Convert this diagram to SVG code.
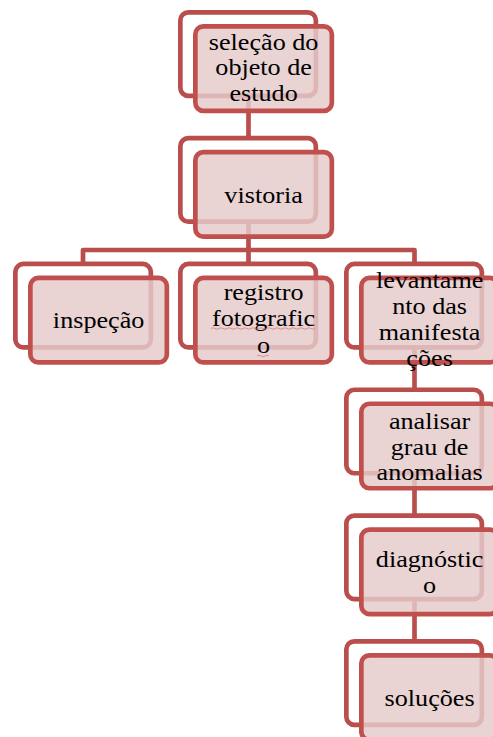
<svg xmlns="http://www.w3.org/2000/svg" width="493" height="737" viewBox="0 0 493 737">
<style>
.back{fill:#ffffff;stroke:#B94E4C;stroke-width:4.7}
.front{fill:#E5CACA;fill-opacity:0.84;stroke:#C0504D;stroke-width:4.7}
.conn{fill:none;stroke:#B94E4C;stroke-width:4.7;stroke-linejoin:round}
.t{font-family:"Liberation Serif","Times New Roman",serif;font-size:24px;fill:#000;text-anchor:middle}
.sq{fill:none;stroke:#E07a7a;stroke-width:0.8}
</style>
<rect width="493" height="737" fill="#ffffff"/>
<g id="connectors">
<path class="conn" d="M248.5 96 V138"/>
<path class="conn" d="M248.5 222 V250 M83 264 V250 H414.5 V264 M248.5 250 V264"/>
<path class="conn" d="M414.5 348 V390"/>
<path class="conn" d="M414.5 473.5 V516"/>
<path class="conn" d="M414.5 599 V642"/>
</g>
<g id="n1">
<rect class="back" x="180.35" y="12.35" width="135.5" height="83.5" rx="8"/>
<rect class="front" x="195.35" y="26.35" width="136.5" height="84.5" rx="8"/>
<text class="t" transform="translate(263.6 0) scale(1.09 1)"><tspan x="0" y="50">seleção do</tspan><tspan x="0" y="75.5">objeto de</tspan><tspan x="0" y="101">estudo</tspan></text>
</g>
<g id="n2">
<rect class="back" x="180.35" y="138.15" width="135.5" height="83.5" rx="8"/>
<rect class="front" x="195.35" y="152.15" width="136.5" height="84.5" rx="8"/>
<text class="t" transform="translate(263.6 0) scale(1.09 1)"><tspan x="0" y="203">vistoria</tspan></text>
</g>
<g id="n3">
<rect class="back" x="15.35" y="263.95" width="135.5" height="83.5" rx="8"/>
<rect class="front" x="30.35" y="277.95" width="136.5" height="84.5" rx="8"/>
<text class="t" transform="translate(98.6 0) scale(1.09 1)"><tspan x="0" y="328">inspeção</tspan></text>
</g>
<g id="n4">
<rect class="back" x="180.35" y="263.95" width="135.5" height="83.5" rx="8"/>
<rect class="front" x="195.35" y="277.95" width="136.5" height="84.5" rx="8"/>
<text class="t" transform="translate(263.6 0) scale(1.09 1)"><tspan x="0" y="300">registro</tspan><tspan x="0" y="326">fotografic</tspan><tspan x="0" y="353">o</tspan></text>
<path class="sq" d="M211 328.5 q2 -1.5 4 0 t4 0 t4 0 t4 0 t4 0 t4 0 t4 0 t4 0 t4 0 t4 0 t4 0 t4 0 t4 0 t4 0 t4 0 t4 0 t4 0 t4 0 t4 0 t4 0 t4 0 t4 0 t4 0 t4 0 t4 0 t4 0"/>
<path class="sq" d="M257 356 q2 -1.5 4 0 t4 0 t4 0"/>
</g>
<g id="n5">
<rect class="back" x="346.35" y="263.95" width="135.5" height="83.5" rx="8"/>
<rect class="front" x="361.35" y="277.95" width="136.5" height="84.5" rx="8"/>
<text class="t" transform="translate(429.6 0) scale(1.09 1)"><tspan x="0" y="288">levantame</tspan><tspan x="0" y="314">nto das</tspan><tspan x="0" y="340">manifesta</tspan><tspan x="0" y="366.5">ções</tspan></text>
</g>
<g id="n6">
<rect class="back" x="346.35" y="389.75" width="135.5" height="83.5" rx="8"/>
<rect class="front" x="361.35" y="403.75" width="136.5" height="84.5" rx="8"/>
<text class="t" transform="translate(429.6 0) scale(1.09 1)"><tspan x="0" y="429">analisar</tspan><tspan x="0" y="455">grau de</tspan><tspan x="0" y="480.5">anomalias</tspan></text>
</g>
<g id="n7">
<rect class="back" x="346.35" y="515.55" width="135.5" height="83.5" rx="8"/>
<rect class="front" x="361.35" y="529.55" width="136.5" height="84.5" rx="8"/>
<text class="t" transform="translate(429.6 0) scale(1.09 1)"><tspan x="0" y="567">diagnóstic</tspan><tspan x="0" y="593">o</tspan></text>
</g>
<g id="n8">
<rect class="back" x="346.35" y="641.35" width="135.5" height="83.5" rx="8"/>
<rect class="front" x="361.35" y="655.35" width="136.5" height="84.5" rx="8"/>
<text class="t" transform="translate(429.6 0) scale(1.09 1)"><tspan x="0" y="706">soluções</tspan></text>
</g>
</svg>
